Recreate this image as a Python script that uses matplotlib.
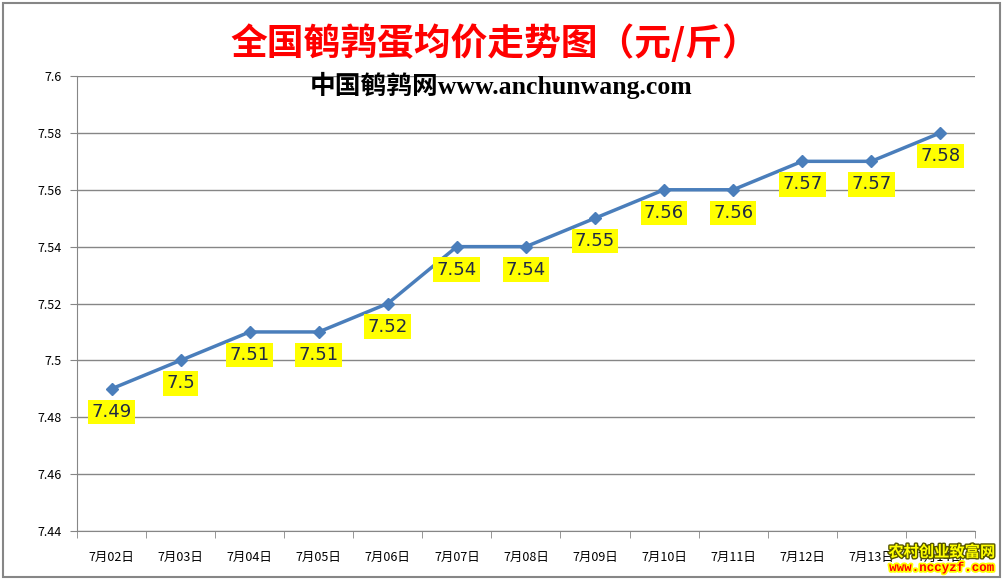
import matplotlib
matplotlib.use("Agg")
import matplotlib.pyplot as plt
from matplotlib.patches import Rectangle
import matplotlib.patheffects as pe

plt.rcParams['font.family'] = ['Noto Sans CJK SC', 'DejaVu Sans']

# data
dates = ['7月02日', '7月03日', '7月04日', '7月05日', '7月06日', '7月07日', '7月08日',
         '7月09日', '7月10日', '7月11日', '7月12日', '7月13日', '7月14日']
prices = [7.49, 7.50, 7.51, 7.51, 7.52, 7.54, 7.54, 7.55, 7.56, 7.56, 7.57, 7.57, 7.58]
yticks = [7.44, 7.46, 7.48, 7.50, 7.52, 7.54, 7.56, 7.58, 7.60]

fig = plt.figure(figsize=(10.05, 5.79), dpi=100)
ax = fig.add_axes([0.0766, 0.0829, 0.8934, 0.7858])

x = list(range(len(dates)))
ax.plot(x, prices, color='#4A7EBB', lw=2.5, marker='D', markersize=6, zorder=3)

for xi, v in zip(x, prices):
    ax.annotate(f'{v:g}', (xi, v), xytext=(0, -23), textcoords='offset pixels',
                ha='center', va='center', fontsize=13, color='#1F2A44',
                family=['DejaVu Sans'],
                bbox=dict(boxstyle='square,pad=0.18', fc='#FFFF00', ec='none'),
                zorder=4)

ax.set_xlim(-0.5, len(dates) - 0.5)
ax.set_ylim(7.44, 7.60)
ax.set_yticks(yticks)
ax.set_yticklabels([f'{v:g}' for v in yticks])
ax.set_xticks(x)
ax.set_xticklabels(dates)
ax.set_xticks([i - 0.5 for i in range(len(dates) + 1)], minor=True)
ax.tick_params(axis='x', which='major', length=0, pad=14, labelsize=9)
ax.tick_params(axis='x', which='minor', length=5, color='#868686', direction='out')
ax.tick_params(axis='y', length=5, color='#868686', labelsize=9, pad=6)

ax.yaxis.grid(True, color='#868686', lw=1)
ax.set_axisbelow(True)
for s in ['top', 'right']:
    ax.spines[s].set_visible(False)
for s in ['left', 'bottom']:
    ax.spines[s].set_color('#868686')

fig.text(0.492, 0.925, '全国鹌鹑蛋均价走势图（元/斤）', ha='center', va='center',
         fontsize=26.5, fontweight='bold', color='#FF0000')
fig.text(0.499, 0.853, '中国鹌鹑网www.anchunwang.com', ha='center', va='center',
         fontsize=18.5, fontweight='bold', color='black',
         family=['Liberation Serif', 'Noto Sans CJK SC'])

fig.text(0.937, 0.047, '农村创业致富网', ha='center', va='center', fontsize=11,
         color='#FFFF00', fontweight='bold', zorder=5,
         path_effects=[pe.withStroke(linewidth=2, foreground='#555500')])
fig.text(0.937, 0.019, 'www.nccyzf.com', ha='center', va='center', fontsize=9,
         color='#FF0000', fontweight='bold', family=['Liberation Mono'], zorder=5,
         path_effects=[pe.withStroke(linewidth=2.5, foreground='#FFFF00')])

fig.patches.append(Rectangle((0.003, 0.004), 0.992, 0.99, transform=fig.transFigure,
                             fill=False, ec='#868686', lw=1.5))

fig.savefig('out.png', dpi=100)
